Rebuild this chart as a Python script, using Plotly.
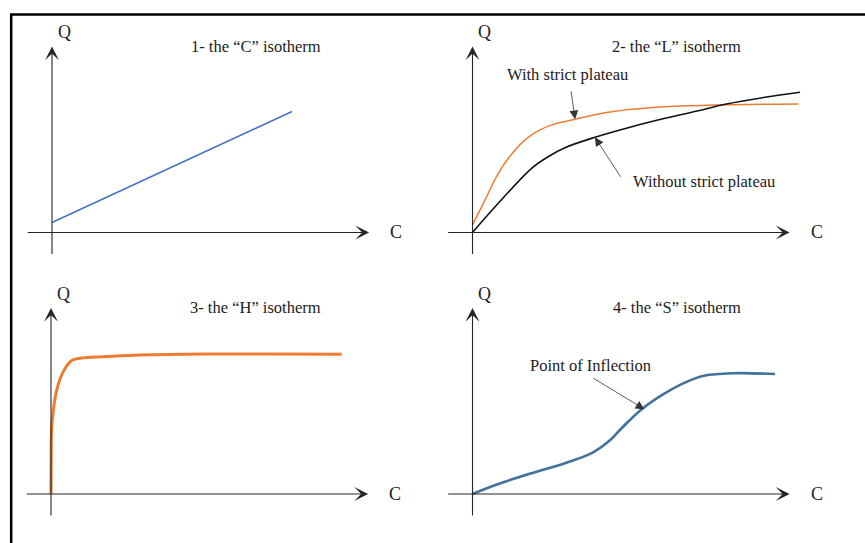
import plotly.graph_objects as go

W, H = 865, 543

# ---- data (C = concentration, Q = amount adsorbed, arbitrary units) ----
c_type_C = [0.0, 8.0]
q_type_C = [0.5, 6.05]

c_L_plateau = [0.0, 0.42, 0.86, 1.42, 1.97, 2.64, 3.42, 4.19, 5.31, 6.42, 8.08, 10.86]
q_L_plateau = [0.38, 1.63, 2.96, 4.13, 4.88, 5.38, 5.66, 5.93, 6.16, 6.29, 6.38, 6.43]

c_L_noplateau = [0.0, 0.86, 1.97, 2.52, 3.08, 4.08, 5.31, 6.42, 7.53, 8.42, 9.75, 10.92]
q_L_noplateau = [0.0, 1.46, 3.21, 3.79, 4.24, 4.76, 5.29, 5.71, 6.09, 6.41, 6.76, 7.01]

c_type_H = [0.0, 0.005, 0.02, 0.08, 0.19, 0.41, 0.69, 0.97, 1.86, 2.97, 5.19, 7.41, 9.69]
q_type_H = [0.0, 1.53, 3.2, 4.2, 5.2, 6.12, 6.67, 6.79, 6.87, 6.95, 7.0, 7.0, 6.99]

c_type_S = [0.0, 0.86, 1.97, 3.08, 3.97, 4.53, 4.97, 5.64, 6.42, 7.08, 7.75, 8.64, 10.08]
q_type_S = [0.0, 0.5, 1.04, 1.54, 2.04, 2.62, 3.29, 4.24, 5.04, 5.57, 5.92, 6.04, 6.0]

titles = ["1- the \u201cC\u201d isotherm", "2- the \u201cL\u201d isotherm",
          "3- the \u201cH\u201d isotherm", "4- the \u201cS\u201d isotherm"]

# ---- layout geometry: origin of each sketch in pixels, and pixel scale ----
origins = [(52, 232.5), (472.5, 232.5), (51, 494), (472.5, 494)]
SX, SY = 30.0, 20.0          # pixels per data unit
XR = [-1.5, 12.5]
YR = [-1.5, 10.5]
AX_X = (-0.86, 10.57)        # drawn x-axis extent
AX_Y = (-1.15, 9.3)          # drawn y-axis extent

FONT = "Liberation Serif, Times New Roman, serif"

fig = go.Figure()
layout = dict(width=W, height=H, margin=dict(l=0, r=0, t=0, b=0, pad=0),
              paper_bgcolor="white", plot_bgcolor="rgba(0,0,0,0)",
              showlegend=False)

annotations = []
for i, (ox, oy) in enumerate(origins):
    n = "" if i == 0 else str(i + 1)
    xa, ya = "xaxis" + n, "yaxis" + n
    xref, yref = "x" + n, "y" + n
    layout[xa] = dict(range=XR, domain=[(ox + XR[0] * SX) / W, (ox + XR[1] * SX) / W],
                      visible=False, anchor=yref, fixedrange=True)
    layout[ya] = dict(range=YR, domain=[1 - (oy - YR[0] * SY) / H, 1 - (oy - YR[1] * SY) / H],
                      visible=False, anchor=xref, fixedrange=True)
    # axes with arrowheads
    annotations.append(dict(xref=xref, yref=yref, axref=xref, ayref=yref,
                            x=AX_X[1], y=0, ax=AX_X[0], ay=0, text="",
                            showarrow=True, arrowhead=3, arrowsize=2.1,
                            arrowwidth=1.1, arrowcolor="#262626"))
    annotations.append(dict(xref=xref, yref=yref, axref=xref, ayref=yref,
                            x=0, y=AX_Y[1], ax=0, ay=AX_Y[0], text="",
                            showarrow=True, arrowhead=3, arrowsize=2.1,
                            arrowwidth=1.1, arrowcolor="#262626"))
    annotations.append(dict(xref=xref, yref=yref, x=0.4, y=10.0, text="Q",
                            showarrow=False, font=dict(family=FONT, size=18, color="#222")))
    annotations.append(dict(xref=xref, yref=yref, x=11.48, y=0, text="C",
                            showarrow=False, font=dict(family=FONT, size=18, color="#222")))
    annotations.append(dict(xref=xref, yref=yref, x=6.8, y=9.32, text=titles[i],
                            showarrow=False, font=dict(family=FONT, size=16.5, color="#222")))

# curves
fig.add_trace(go.Scatter(x=c_type_C, y=q_type_C, mode="lines",
                         line=dict(color="#4472C4", width=1.5), xaxis="x", yaxis="y"))
fig.add_trace(go.Scatter(x=c_L_plateau, y=q_L_plateau, mode="lines",
                         line=dict(color="#ED7D31", width=1.5, shape="spline", smoothing=1.0),
                         xaxis="x2", yaxis="y2"))
fig.add_trace(go.Scatter(x=c_L_noplateau, y=q_L_noplateau, mode="lines",
                         line=dict(color="#111111", width=1.6, shape="spline", smoothing=1.0),
                         xaxis="x2", yaxis="y2"))
fig.add_trace(go.Scatter(x=c_type_H, y=q_type_H, mode="lines",
                         line=dict(color="#ED7D31", width=3, shape="spline", smoothing=1.0),
                         xaxis="x3", yaxis="y3"))
fig.add_trace(go.Scatter(x=c_type_S, y=q_type_S, mode="lines",
                         line=dict(color="#41719C", width=2.6, shape="spline", smoothing=1.0),
                         xaxis="x4", yaxis="y4"))

# callouts
callouts = [
    # (axis suffix, label, label pos, arrow tail, arrow head)
    ("2", "With strict plateau", (3.18, 7.88), (3.28, 7.13), (3.42, 5.66)),
    ("2", "Without strict plateau", (7.73, 2.54), (4.97, 2.71), (4.08, 4.76)),
    ("4", "Point of Inflection", (3.92, 6.45), (3.97, 5.84), (5.73, 4.24)),
]
for n, label, (tx, ty), (ax_, ay_), (hx, hy) in callouts:
    annotations.append(dict(xref="x" + n, yref="y" + n, x=tx, y=ty, text=label,
                            showarrow=False, font=dict(family=FONT, size=16.5, color="#222")))
    annotations.append(dict(xref="x" + n, yref="y" + n, axref="x" + n, ayref="y" + n,
                            x=hx, y=hy, ax=ax_, ay=ay_, text="",
                            showarrow=True, arrowhead=2, arrowsize=2.2,
                            arrowwidth=0.8, arrowcolor="#333"))

layout["annotations"] = annotations
# frame around the figure (top and left edges visible)
layout["shapes"] = [dict(type="rect", xref="paper", yref="paper",
                         x0=11.2 / W, x1=1.05, y0=-0.05, y1=1 - 14.5 / H,
                         line=dict(color="black", width=2.5), fillcolor="rgba(0,0,0,0)")]
fig.update_layout(**layout)
fig.write_html("out.html", config={"displayModeBar": False})
